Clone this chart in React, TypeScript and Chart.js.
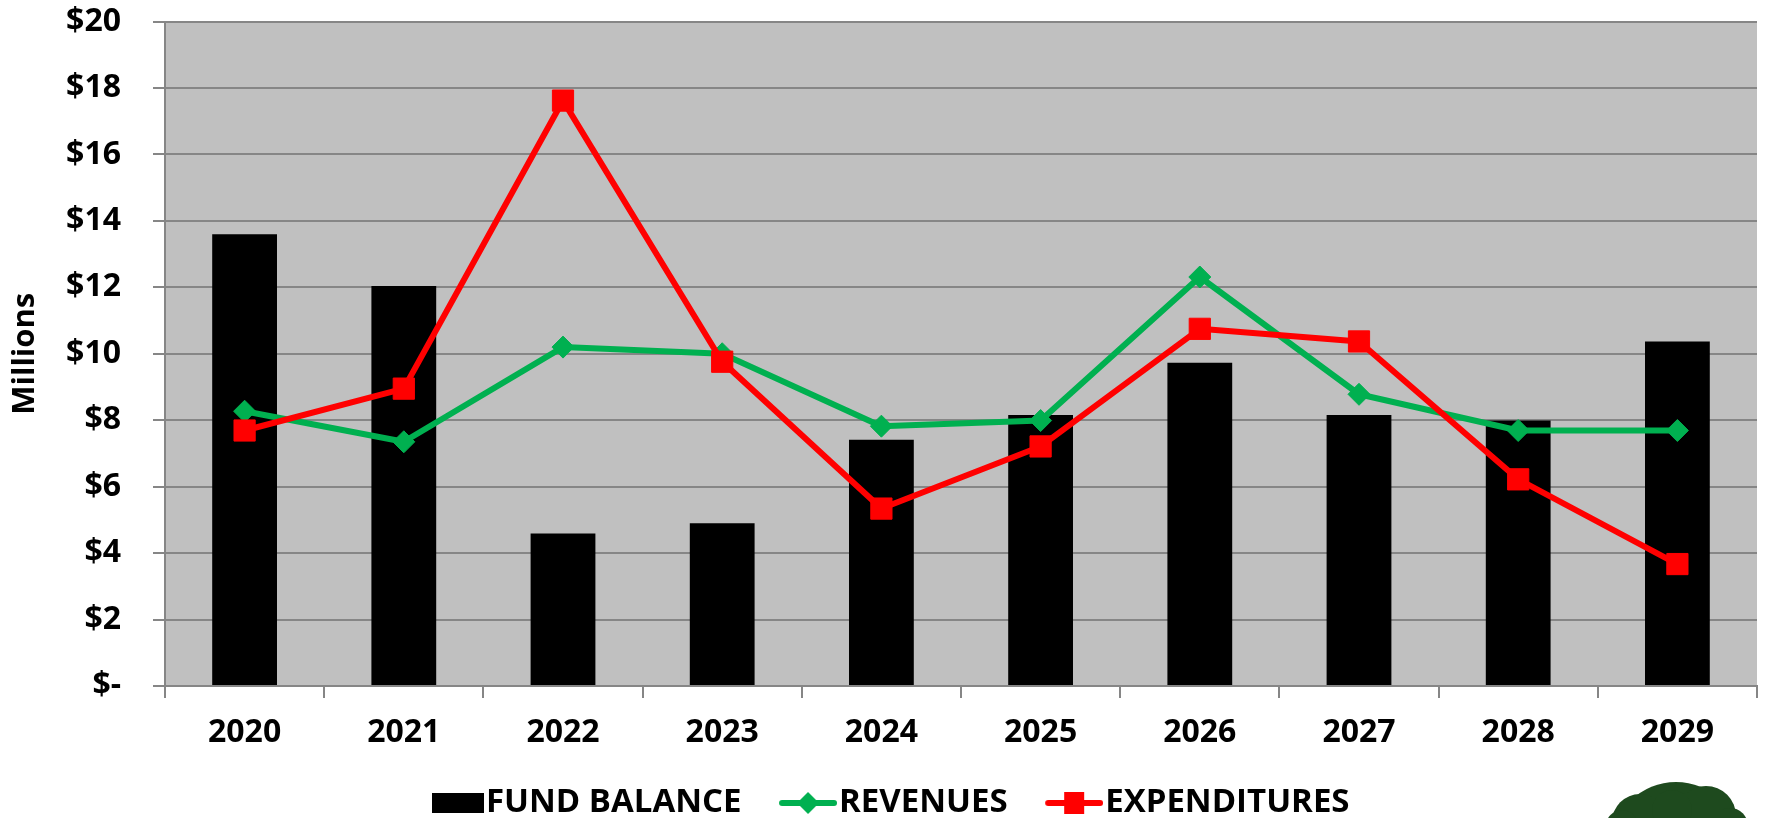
import React, { useEffect, useRef } from "react";
import { Chart, registerables } from "chart.js";

Chart.register(...registerables);

const years = ["2020", "2021", "2022", "2023", "2024", "2025", "2026", "2027", "2028", "2029"];
const fundBalance = [13.6, 12.04, 4.59, 4.9, 7.41, 8.16, 9.73, 8.16, 7.99, 10.37];
const revenues = [8.27, 7.35, 10.2, 10.0, 7.82, 7.99, 12.31, 8.78, 7.69, 7.69];
const expenditures = [7.69, 8.95, 17.62, 9.76, 5.34, 7.21, 10.75, 10.37, 6.22, 3.67];
const seriesNames = ["FUND BALANCE", "REVENUES", "EXPENDITURES"];
const yMin = 0;
const yMax = 20;
const yStep = 2;
const yTitle = "Millions";

const FONT = "'Open Sans', 'Noto Sans', sans-serif";
const GREEN = "#00B050";
const RED = "#FF0000";
const GRID = "#868686";
const PLOT_BG = "#C0C0C0";

const ICON_W = 100;
const LEGEND_FONT = 33;
const PAD_LEFT = -16;

function makeIcon(kind: string): HTMLCanvasElement {
  const c = document.createElement("canvas");
  c.width = ICON_W;
  c.height = 24;
  const ctx = c.getContext("2d")!;
  if (kind === "bar") {
    ctx.fillStyle = "#000000";
    ctx.fillRect(ICON_W - 52, 2, 52, 20);
  } else {
    const col = kind === "rev" ? GREEN : RED;
    const cx = ICON_W - 29;
    ctx.strokeStyle = col;
    ctx.lineWidth = 6;
    ctx.lineCap = "round";
    ctx.beginPath();
    ctx.moveTo(ICON_W - 55, 12);
    ctx.lineTo(ICON_W - 3, 12);
    ctx.stroke();
    ctx.fillStyle = col;
    if (kind === "rev") {
      ctx.beginPath();
      ctx.moveTo(cx - 11, 12);
      ctx.lineTo(cx, 1);
      ctx.lineTo(cx + 11, 12);
      ctx.lineTo(cx, 23);
      ctx.closePath();
      ctx.fill();
    } else {
      ctx.fillRect(cx - 10, 1, 20, 22);
    }
  }
  return c;
}

export default function App() {
  const ref = useRef<HTMLCanvasElement | null>(null);

  useEffect(() => {
    if (!ref.current) return;
    const icons = [makeIcon("bar"), makeIcon("rev"), makeIcon("exp")];

    const bgPlugin = {
      id: "plotBg",
      beforeDraw(chart: any) {
        const { ctx, chartArea } = chart;
        ctx.save();
        ctx.fillStyle = PLOT_BG;
        ctx.fillRect(chartArea.left, chartArea.top, chartArea.right - chartArea.left, chartArea.bottom - chartArea.top);
        ctx.restore();
      },
    };

    const logoPlugin = {
      id: "logo",
      afterDraw(chart: any) {
        const ctx = chart.ctx;
        ctx.save();
        ctx.fillStyle = "#1E4A1E";
        const blobs = [
          [1676, 846, 64],
          [1640, 822, 28],
          [1706, 816, 30],
          [1672, 810, 20],
          [1622, 826, 16],
          [1730, 826, 18],
        ];
        for (const [x, y, r] of blobs) {
          ctx.beginPath();
          ctx.arc(x, y, r, 0, Math.PI * 2);
          ctx.fill();
        }
        ctx.restore();
      },
    };

    const chart = new Chart(ref.current, {
      type: "bar",
      data: {
        labels: years,
        datasets: [
          {
            type: "line",
            label: seriesNames[2],
            data: expenditures,
            borderColor: RED,
            backgroundColor: RED,
            borderWidth: 6,
            pointStyle: "rect",
            pointRadius: 15,
            pointBorderWidth: 1,
            pointBackgroundColor: RED,
            pointBorderColor: RED,
            borderJoinStyle: "round",
            borderCapStyle: "round",
            tension: 0,
            order: 0,
          } as any,
          {
            type: "line",
            label: seriesNames[1],
            data: revenues,
            borderColor: GREEN,
            backgroundColor: GREEN,
            borderWidth: 6,
            pointStyle: "rectRot",
            pointRadius: 11,
            pointBorderWidth: 1,
            pointBackgroundColor: GREEN,
            pointBorderColor: GREEN,
            borderJoinStyle: "round",
            borderCapStyle: "round",
            tension: 0,
            order: 1,
          } as any,
          {
            type: "bar",
            label: seriesNames[0],
            data: fundBalance,
            backgroundColor: "#000000",
            borderWidth: 0,
            barPercentage: 0.407,
            categoryPercentage: 1.0,
            order: 2,
          } as any,
        ],
      },
      options: {
        responsive: false,
        animation: false,
        layout: { padding: { left: PAD_LEFT, right: 9, top: 21.5, bottom: -11.5 } },
        plugins: {
          tooltip: { enabled: false },
          legend: {
            position: "bottom",
            labels: {
              usePointStyle: true,
              pointStyleWidth: ICON_W + 4 - LEGEND_FONT,
              padding: 10,
              color: "#000000",
              font: { family: FONT, size: LEGEND_FONT, weight: "bold" },
              generateLabels: () =>
                seriesNames.map((name, i) => ({
                  text: name,
                  pointStyle: icons[i],
                  fillStyle: "rgba(0,0,0,0)",
                  strokeStyle: "rgba(0,0,0,0)",
                  lineWidth: 0,
                  hidden: false,
                  datasetIndex: 2 - i,
                  fontColor: "#000000",
                })),
            },
          },
        },
        scales: {
          x: {
            offset: true,
            afterFit: (scale: any) => {
              scale.height = 90.5;
            },
            grid: {
              offset: true,
              drawOnChartArea: false,
              drawTicks: true,
              tickLength: 12,
              color: GRID,
              lineWidth: 2,
            },
            border: { color: GRID, width: 2 },
            ticks: {
              color: "#000000",
              padding: 16,
              maxRotation: 0,
              font: { family: FONT, size: 32, weight: "bold" },
            },
          },
          y: {
            min: yMin,
            max: yMax,
            afterFit: (scale: any) => {
              scale.width = 165 - PAD_LEFT;
              scale.paddingTop = 0;
              scale.paddingBottom = 0;
            },
            grid: {
              color: GRID,
              lineWidth: 2,
              tickLength: 12,
              drawTicks: true,
            },
            border: { color: GRID, width: 2 },
            ticks: {
              stepSize: yStep,
              padding: 32,
              color: "#000000",
              font: { family: FONT, size: 32, weight: "bold" },
              callback: (v: any) => (Number(v) === 0 ? "$-" : "$" + v),
            },
            title: {
              display: true,
              text: yTitle,
              color: "#000000",
              padding: { top: 6.4 - PAD_LEFT, bottom: 0 },
              font: { family: FONT, size: 31, weight: "bold" },
            },
          },
        },
      },
      plugins: [bgPlugin, logoPlugin],
    } as any);

    return () => chart.destroy();
  }, []);

  return (
    <div style={{ position: "absolute", left: 0, top: 0, width: 1773, height: 818 }}>
      <canvas ref={ref} width={1773} height={818} style={{ display: "block" }} />
    </div>
  );
}
